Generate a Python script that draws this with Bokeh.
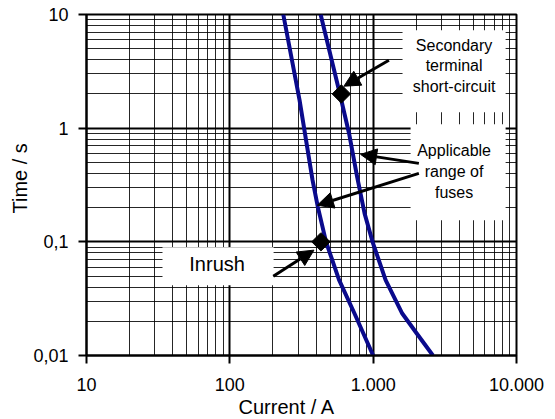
import math
from bokeh.plotting import figure
from bokeh.models import FixedTicker, Arrow, NormalHead, Title
from bokeh.core.properties import value
from bokeh.embed import file_html
from bokeh.resources import INLINE

# ---- data ----
x_ticks = [10, 100, 1000, 10000]
x_tick_labels = ["10", "100", "1.000", "10.000"]
y_ticks = [0.01, 0.1, 1, 10]
y_tick_labels = ["0,01", "0,1", "1", "10"]

# lower fuse characteristic (current in A, time in s)
left_current = [236, 306.5, 377.6, 411, 469, 578, 741, 1000]
left_time = [10, 1.763, 0.349, 0.203, 0.1, 0.0462, 0.0234, 0.01]
# upper fuse characteristic
right_current = [430, 587, 679, 773, 871, 990, 1222, 1596, 2009, 2612]
right_time = [10, 1.98, 0.898, 0.373, 0.178, 0.1, 0.046, 0.0234, 0.0157, 0.01]

# marked points
point_current = [600, 432]
point_time = [2.0, 0.1]

# annotation boxes (left, right, bottom, top) in data units
box_left = [1603, 1824, 33.9]
box_right = [8395, 8395, 202]
box_bottom = [1.38, 0.155, 0.0416]
box_top = [7.28, 1.084, 0.0898]

callout_lines = ["Secondary", "terminal", "short-circuit", "Applicable", "range of", "fuses"]
callout_x = [3670] * 6
callout_y = [5.37, 3.53, 2.31, 0.631, 0.413, 0.270]

inrush_text = "Inrush"
inrush_x = 81.5
inrush_y = 0.0643

# arrows: (x_start, y_start, x_end, y_end)
arrow_x_start = [1288, 2084, 2084, 201]
arrow_y_start = [3.96, 0.490, 0.400, 0.0499]
arrow_x_end = [625, 817, 408, 386]
arrow_y_end = [2.34, 0.588, 0.210, 0.0845]

x_title = "Current / A"
y_title = "Time / s"

FONT = "Liberation Sans"

p = figure(width=555, height=419, x_axis_type="log", y_axis_type="log",
           x_range=(10, 10000), y_range=(0.01, 10),
           output_backend="svg", toolbar_location=None,
           min_border_left=86, min_border_right=39,
           min_border_top=14, min_border_bottom=64)

p.outline_line_color = "black"
p.outline_line_width = 2
p.background_fill_color = "white"
p.border_fill_color = "white"

x_minor = [d * k for d in [10, 100, 1000] for k in range(2, 10)]
y_minor = [d * k for d in [0.01, 0.1, 1] for k in range(2, 10)]
p.xaxis.ticker = FixedTicker(ticks=x_ticks, minor_ticks=x_minor)
p.yaxis.ticker = FixedTicker(ticks=y_ticks, minor_ticks=y_minor)
p.xaxis.major_label_overrides = {t: s for t, s in zip(x_ticks, x_tick_labels)}
p.yaxis.major_label_overrides = {t: s for t, s in zip(y_ticks, y_tick_labels)}

for ax in (p.xaxis, p.yaxis):
    ax.axis_line_color = "black"
    ax.axis_line_width = 2
    ax.major_tick_line_color = "black"
    ax.major_tick_line_width = 2
    ax.major_tick_out = 8
    ax.major_tick_in = 0
    ax.minor_tick_out = 0
    ax.minor_tick_in = 0
    ax.major_label_text_font = FONT
    ax.major_label_text_font_size = "18px"
    ax.major_label_text_color = "black"
p.yaxis.major_label_standoff = 10
p.xaxis.major_label_standoff = 14

for g in (p.xgrid, p.ygrid):
    g.grid_line_color = "black"
    g.grid_line_width = 2
    g.grid_line_alpha = 1
    g.minor_grid_line_color = "black"
    g.minor_grid_line_width = 1
    g.minor_grid_line_alpha = 0.85

# axis titles
xt = Title(text=x_title, align="left", offset=152, text_font=FONT,
           text_font_size="20px", text_font_style="normal", text_color="black", standoff=0)
p.add_layout(xt, "below")
yt = Title(text=y_title, align="left", offset=142, text_font=FONT,
           text_font_size="20px", text_font_style="normal", text_color="black", standoff=0)
p.add_layout(yt, "left")

# white text boxes
p.quad(left=box_left, right=box_right, bottom=box_bottom, top=box_top,
       fill_color="white", line_color=None)

# curves
p.line(left_current, left_time, line_color="#0A0A8C", line_width=4, line_join="round")
p.line(right_current, right_time, line_color="#0A0A8C", line_width=4, line_join="round")

# markers
p.scatter(point_current, point_time, marker="square", size=13, angle=math.pi / 4,
          fill_color="black", line_color="black")

# arrows
for xs, ys, xe, ye in zip(arrow_x_start, arrow_y_start, arrow_x_end, arrow_y_end):
    p.add_layout(Arrow(end=NormalHead(size=16, fill_color="black", line_color="black", line_width=1),
                       x_start=xs, y_start=ys, x_end=xe, y_end=ye,
                       line_color="black", line_width=3))

# texts
p.text(x=callout_x, y=callout_y, text=callout_lines, text_font=value(FONT),
       text_font_size="16px", text_align="center", text_baseline="middle", text_color="black")
p.text(x=[inrush_x], y=[inrush_y], text=[inrush_text], text_font=value(FONT),
       text_font_size="20px", text_align="center", text_baseline="middle", text_color="black")

open("out.html", "w").write(file_html(p, INLINE))
